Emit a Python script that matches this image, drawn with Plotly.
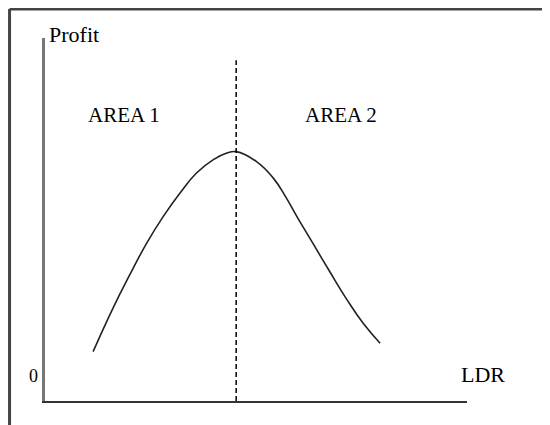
import plotly.graph_objects as go

# curve (LDR vs profit, arbitrary units)
ldr = [11.4, 16.2, 20.1, 24.1, 28.0, 32.0, 35.9, 39.9, 43.1, 45.3,
       50.2, 54.1, 57.0, 59.6, 63.6, 67.5, 71.5, 75.4, 79.4]
profit = [13.6, 25.8, 34.8, 43.5, 50.8, 57.3, 62.8, 66.5, 68.3, 68.7,
          65.9, 61.4, 56.3, 51.0, 43.2, 35.6, 28.0, 21.4, 15.9]

peak_x = [45.3, 45.3]
peak_y = [0, 93.9]

area_labels = ["AREA 1", "AREA 2"]
area_x = [18.7, 70.1]
area_y = [78.8, 78.8]

font = dict(family="Liberation Serif, Times New Roman, serif", size=21, color="black")

fig = go.Figure()
fig.add_trace(go.Scatter(x=ldr, y=profit, mode="lines",
                         line=dict(color="#222", width=1.6, shape="spline", smoothing=1.3)))
fig.add_trace(go.Scatter(x=peak_x, y=peak_y, mode="lines",
                         line=dict(color="black", width=1.5, dash="5px,3px")))

for t, x, y in zip(area_labels, area_x, area_y):
    fig.add_annotation(x=x, y=y, text=t, showarrow=False, font=font)

fig.add_annotation(x=0.005, y=1.05, xref="paper", yref="paper", text="Profit",
                   showarrow=False, font=dict(font, size=22))
fig.add_annotation(x=1.095, y=0.033, xref="paper", yref="paper", text="LDR",
                   showarrow=False, font=dict(font, size=22))
fig.add_annotation(x=-0.043, y=0.036, xref="paper", yref="paper", text="0",
                   showarrow=False, font=dict(font, size=18))

# outer frame (only top and left edges show in the crop)
fig.add_shape(type="line", xref="paper", yref="paper", x0=-0.084, x1=1.25, y0=1.08, y1=1.08,
              line=dict(color="#444", width=3))
fig.add_shape(type="line", xref="paper", yref="paper", x0=-0.084, x1=-0.084, y0=1.08, y1=-0.15,
              line=dict(color="#444", width=3))

fig.update_xaxes(range=[0, 100], showline=True, linecolor="#333", linewidth=2,
                 showgrid=False, zeroline=False, showticklabels=False, ticks="")
fig.update_yaxes(range=[0, 100], showline=True, linecolor="#777", linewidth=3,
                 showgrid=False, zeroline=False, showticklabels=False, ticks="")
# page body adds 8px, so margins are shifted to keep the plot where it sits in the picture
fig.update_layout(width=550, height=425, showlegend=False,
                  margin=dict(l=37, r=91, t=30, b=32),
                  plot_bgcolor="white", paper_bgcolor="white")

fig.write_html("out.html")
